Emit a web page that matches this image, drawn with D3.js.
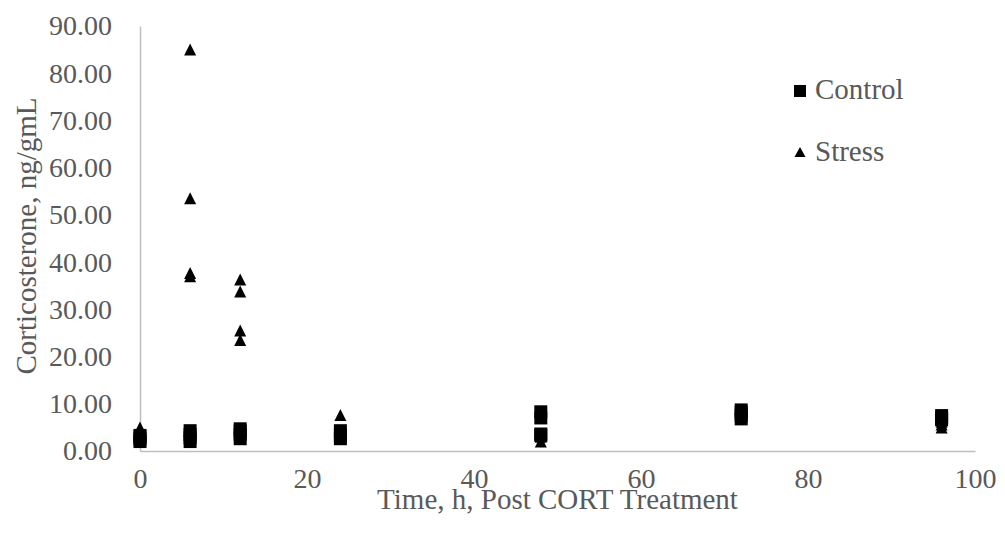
<!DOCTYPE html>
<html>
<head>
<meta charset="utf-8">
<script src="https://cdn.jsdelivr.net/npm/d3@7"></script>
<style>
  html, body { margin: 0; padding: 0; background: #fff; }
  svg text { font-family: "Liberation Serif", "Times New Roman", serif; fill: #595959; }
</style>
</head>
<body>
<svg id="chart" width="1005" height="538"></svg>
<script>
  'use strict';

  // Control group (squares)
  var controlTime = [0, 0, 0, 0, 6, 6, 6, 6, 12, 12, 12, 12, 24, 24, 24,
                     48, 48, 48, 48, 72, 72, 72, 72, 96, 96, 96];
  var controlCort = [2.0, 2.5, 3.0, 3.3, 2.0, 2.8, 3.5, 4.3, 2.6, 3.5, 4.2, 4.7,
                     2.6, 3.3, 4.3, 3.3, 3.6, 7.0, 8.3, 6.8, 7.5, 8.2, 8.7,
                     6.6, 7.0, 7.5];

  // Stress group (triangles)
  var stressTime = [0, 0, 6, 6, 6, 6, 12, 12, 12, 12, 24, 48, 48, 72, 96, 96, 96];
  var stressCort = [5.0, 3.0, 85.0, 53.5, 37.7, 37.0, 36.3, 33.8, 25.5, 23.5,
                    7.6, 2.0, 3.0, 7.0, 5.0, 5.6, 6.2];

  var xTicks = [0, 20, 40, 60, 80, 100];
  var yTicks = [0, 10, 20, 30, 40, 50, 60, 70, 80, 90];
  var seriesNames = ['Control', 'Stress'];

  var svg = d3.select('#chart');
  var plot = { left: 140, right: 975, top: 26, bottom: 451 };

  var x = d3.scaleLinear().domain([0, 100]).range([plot.left, plot.right]);
  var y = d3.scaleLinear().domain([0, 90]).range([plot.bottom, plot.top]);

  var axisColor = '#bfbfbf';

  // y axis
  var yAxis = svg.append('g')
    .attr('transform', 'translate(' + plot.left + ',0)')
    .call(d3.axisLeft(y).tickValues(yTicks).tickFormat(d3.format('.2f'))
      .tickSize(0).tickPadding(28));
  yAxis.select('.domain').attr('stroke', axisColor).attr('stroke-width', 1.5);
  yAxis.selectAll('text').style('font-size', '28px').attr('fill', '#595959');

  // x axis
  var xAxis = svg.append('g')
    .attr('transform', 'translate(0,' + plot.bottom + ')')
    .call(d3.axisBottom(x).tickValues(xTicks).tickFormat(d3.format('d'))
      .tickSize(0).tickPadding(17));
  xAxis.select('.domain').attr('stroke', axisColor).attr('stroke-width', 1.5);
  xAxis.selectAll('text').style('font-size', '28px').attr('fill', '#595959');

  // axis titles
  svg.append('text')
    .attr('x', (plot.left + plot.right) / 2)
    .attr('y', 509)
    .attr('text-anchor', 'middle')
    .style('font-size', '29px')
    .text('Time, h, Post CORT Treatment');

  svg.append('text')
    .attr('transform', 'translate(36,' + 236 + ') rotate(-90)')
    .attr('text-anchor', 'middle')
    .style('font-size', '29px')
    .text('Corticosterone, ng/gmL');

  function trianglePath(w, h) {
    return 'M0,' + (-h / 2) + 'L' + (w / 2) + ',' + (h / 2) + 'L' + (-w / 2) + ',' + (h / 2) + 'Z';
  }

  var sq = 13;
  svg.append('g').attr('class', 'control')
    .selectAll('rect')
    .data(d3.range(controlTime.length))
    .enter().append('rect')
    .attr('x', function(i) { return x(controlTime[i]) - sq / 2; })
    .attr('y', function(i) { return y(controlCort[i]) - sq / 2; })
    .attr('width', sq)
    .attr('height', sq)
    .attr('fill', '#000');

  svg.append('g').attr('class', 'stress')
    .selectAll('path')
    .data(d3.range(stressTime.length))
    .enter().append('path')
    .attr('transform', function(i) {
      return 'translate(' + x(stressTime[i]) + ',' + y(stressCort[i]) + ')';
    })
    .attr('d', trianglePath(12, 12))
    .attr('fill', '#000');

  // legend
  var legend = svg.append('g').attr('transform', 'translate(800,0)');
  legend.append('rect')
    .attr('x', -6).attr('y', 85).attr('width', 12).attr('height', 12)
    .attr('fill', '#000');
  legend.append('path')
    .attr('transform', 'translate(0,152)')
    .attr('d', trianglePath(11, 10))
    .attr('fill', '#000');
  legend.selectAll('text.lg')
    .data(seriesNames)
    .enter().append('text')
    .attr('class', 'lg')
    .attr('x', 15)
    .attr('y', function(d, i) { return i === 0 ? 99 : 161; })
    .style('font-size', '29px')
    .text(function(d) { return d; });
</script>
</body>
</html>
